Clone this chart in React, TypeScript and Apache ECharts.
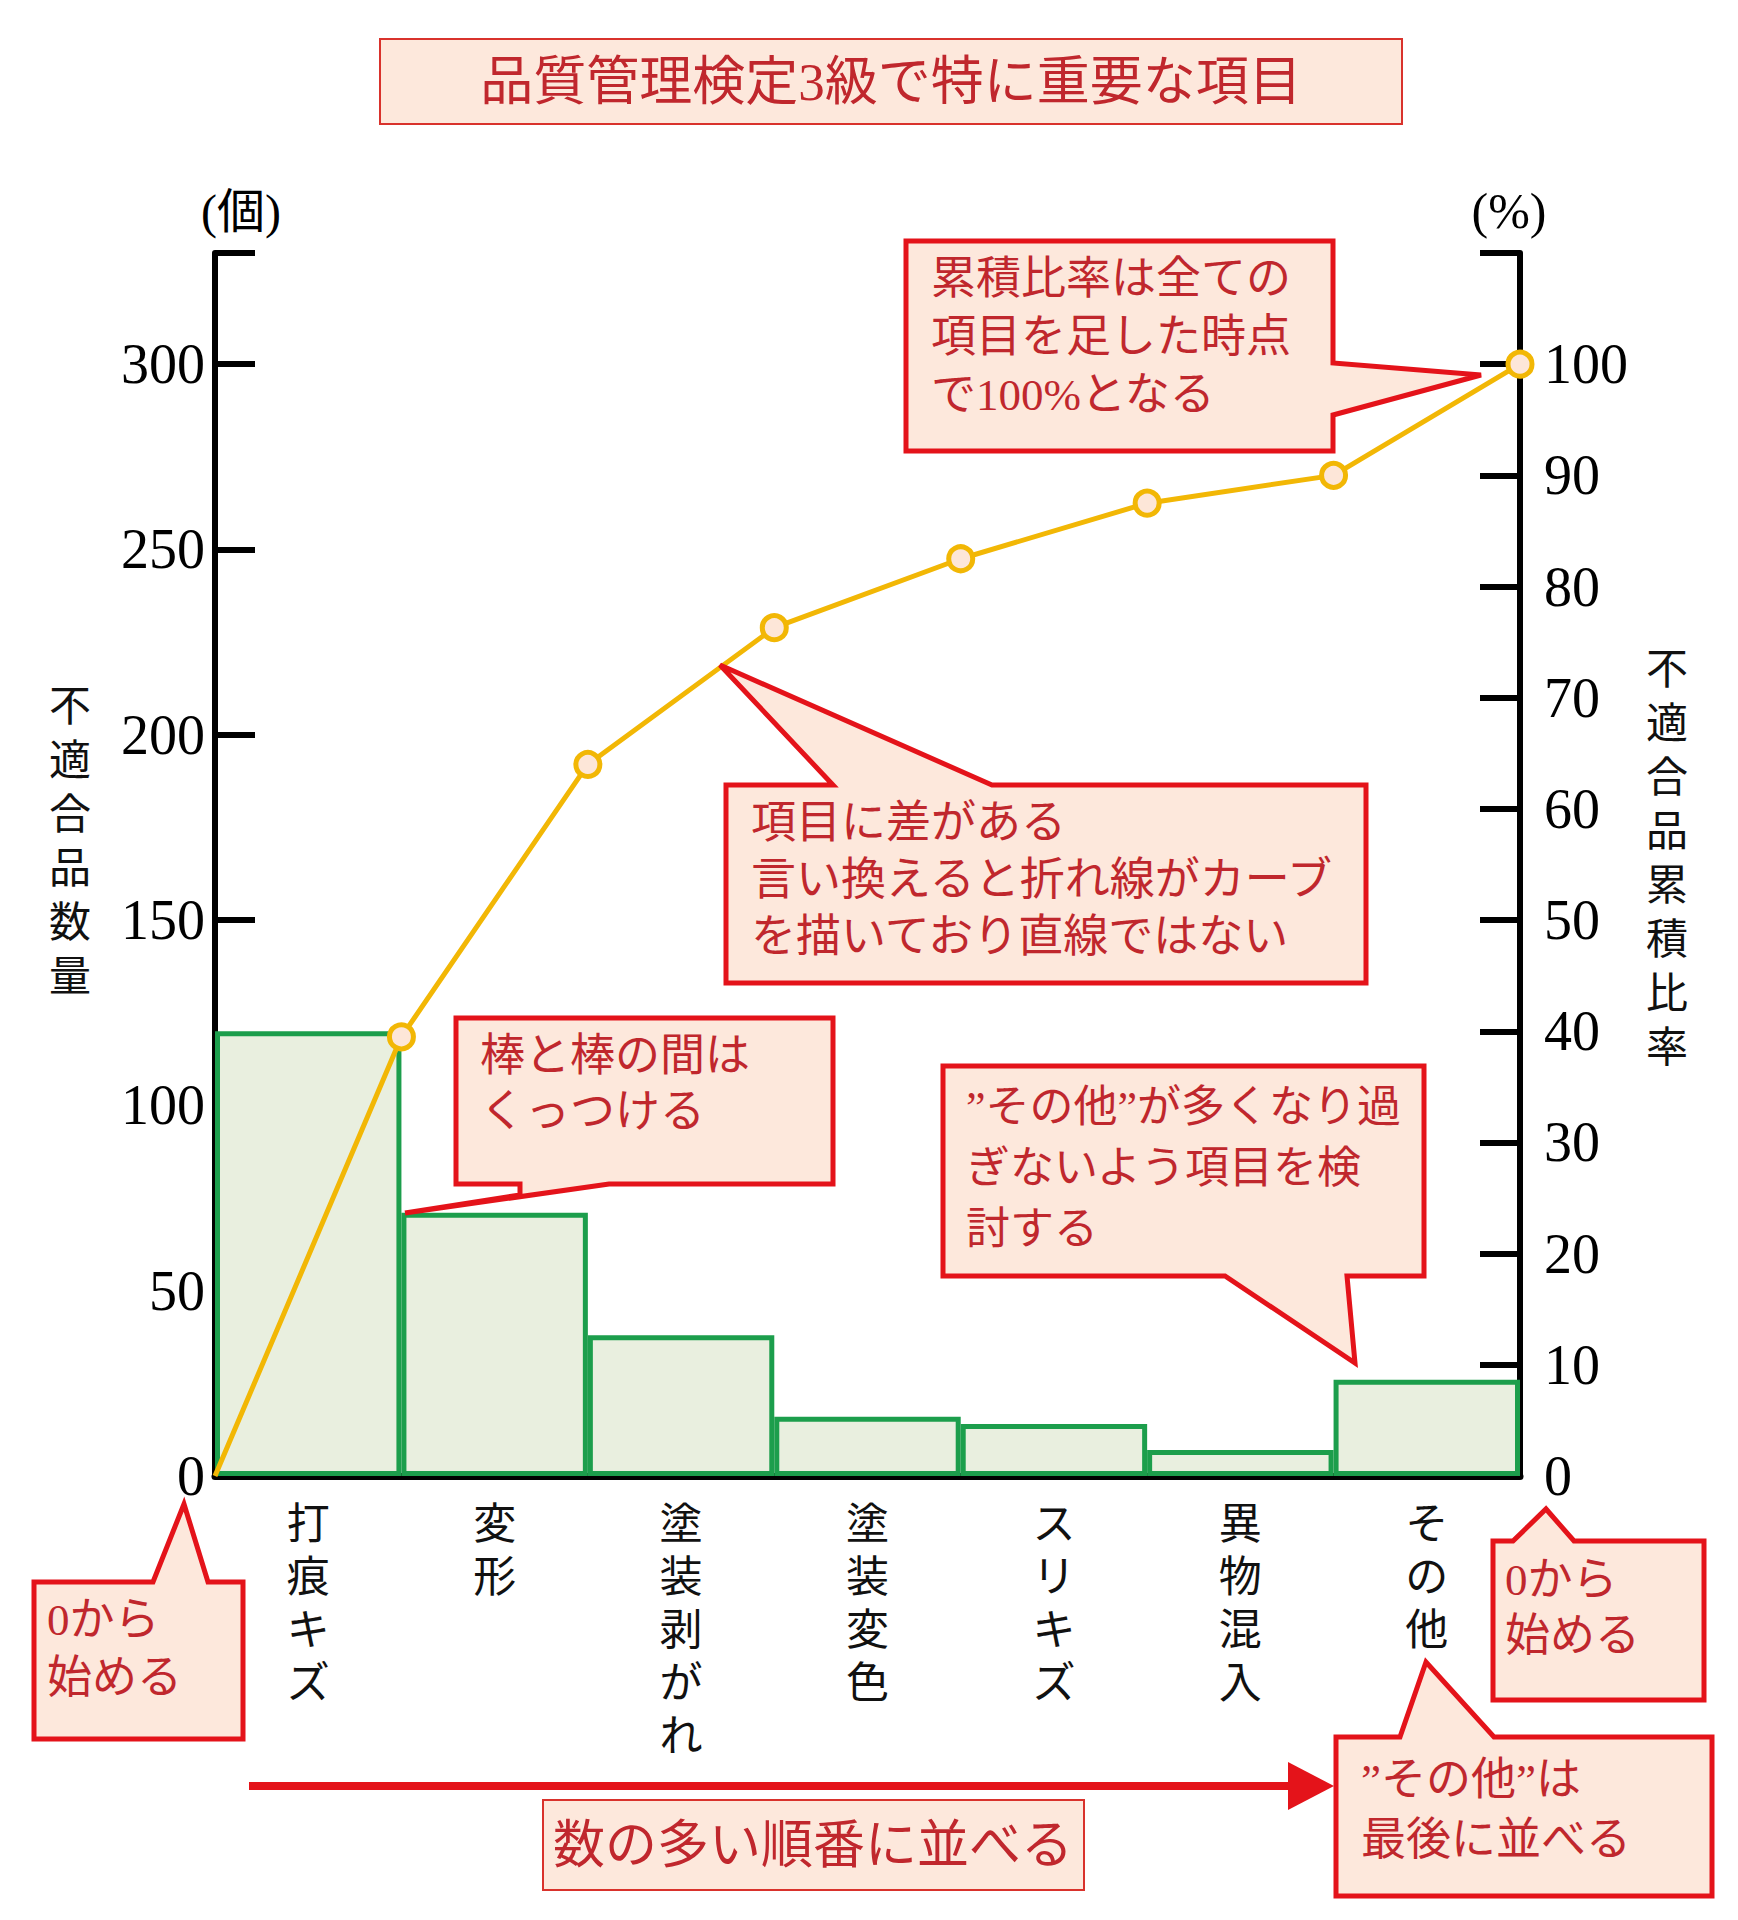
import { useEffect, useRef } from 'react';
import * as echarts from 'echarts';

// ---- data ----
const categories = ['打痕キズ', '変形', '塗装剥がれ', '塗装変色', 'スリキズ', '異物混入', 'その他'];
const defectCounts = [120, 71, 38, 16, 14, 7, 26];
const cumulativePct = [0, 39.5, 64, 76.3, 82.5, 87.5, 90, 100];
const countAxisMax = 330;
const countAxisStep = 50;
const pctAxisMax = 110;
const pctAxisStep = 10;

const titleText = '品質管理検定3級で特に重要な項目';
const leftAxisTitle = '不適合品数量';
const rightAxisTitle = '不適合品累積比率';
const leftUnit = '(個)';
const rightUnit = '(%)';

const MIX = "'Liberation Serif', 'Noto Sans CJK JP', serif";
const RED_TXT = '#c0272d';
const RED_LINE = '#e4131a';
const PEACH = '#fde8dc';

function vertical(s: string) {
  return s.split('').join('\n');
}

function callout(points: number[][], lw = 5) {
  return {
    type: 'polygon',
    shape: { points },
    style: { fill: PEACH, stroke: RED_LINE, lineWidth: lw, lineJoin: 'miter' },
    z: 50,
  };
}

function ctext(x: number, y: number, text: string, lineHeight: number, fontSize = 45) {
  return {
    type: 'text',
    x,
    y,
    z: 60,
    style: {
      text,
      fill: RED_TXT,
      fontSize,
      fontFamily: MIX,
      lineHeight,
      textAlign: 'left',
      textVerticalAlign: 'top',
    },
  };
}

export default function App() {
  const ref = useRef<HTMLDivElement>(null);

  useEffect(() => {
    document.body.style.margin = '0';
    if (!ref.current) return;
    const chart = echarts.init(ref.current, undefined, { renderer: 'svg' });

    const option: any = {
      animation: false,
      backgroundColor: '#ffffff',
      grid: { left: 215, right: 218, top: 253, bottom: 444, containLabel: false, outerBoundsMode: 'none' },
      xAxis: [
        {
          type: 'category',
          data: categories,
          boundaryGap: true,
          axisLine: { show: true, lineStyle: { color: '#000', width: 7 } },
          axisTick: { show: false },
          splitLine: { show: false },
          axisLabel: {
            formatter: (v: string) => vertical(v),
            color: '#111',
            fontFamily: MIX,
            fontSize: 43,
            lineHeight: 53,
            margin: 22,
            verticalAlign: 'top',
            interval: 0,
          },
        },
        {
          type: 'value',
          min: 0,
          max: categories.length,
          show: false,
        },
      ],
      yAxis: [
        {
          type: 'value',
          min: 0,
          max: countAxisMax,
          interval: countAxisStep,
          position: 'left',
          axisLine: { show: true, lineStyle: { color: '#000', width: 6 } },
          axisTick: { show: true, inside: true, length: 40, lineStyle: { color: '#000', width: 6 } },
          splitLine: { show: false },
          axisLabel: {
            formatter: (v: number) => (v === countAxisMax ? '' : String(v)),
            color: '#000',
            fontFamily: MIX,
            fontSize: 56,
            margin: 10,
          },
        },
        {
          type: 'value',
          min: 0,
          max: pctAxisMax,
          interval: pctAxisStep,
          position: 'right',
          axisLine: { show: true, lineStyle: { color: '#000', width: 6 } },
          axisTick: { show: true, inside: true, length: 40, lineStyle: { color: '#000', width: 6 } },
          splitLine: { show: false },
          axisLabel: {
            formatter: (v: number) => (v === pctAxisMax ? '' : String(v)),
            color: '#000',
            fontFamily: MIX,
            fontSize: 56,
            margin: 24,
          },
        },
      ],
      series: [
        {
          type: 'bar',
          xAxisIndex: 0,
          yAxisIndex: 0,
          data: defectCounts,
          barCategoryGap: '0%',
          barGap: '0%',
          itemStyle: { color: '#e9efdf', borderColor: '#1c9e4c', borderWidth: 5 },
          z: 2,
        },
        {
          type: 'line',
          xAxisIndex: 1,
          yAxisIndex: 1,
          data: cumulativePct.map((v, i) => ({ value: [i, v], symbol: i === 0 ? 'none' : 'circle' })),
          symbolSize: 24,
          showSymbol: true,
          lineStyle: { color: '#f2b705', width: 5 },
          itemStyle: { color: '#fde6d8', borderColor: '#f2b705', borderWidth: 5 },
          z: 5,
        },
      ],
      graphic: [
        // title
        {
          type: 'rect',
          shape: { x: 380, y: 39, width: 1022, height: 85 },
          style: { fill: PEACH, stroke: '#d9322c', lineWidth: 2 },
          z: 50,
        },
        {
          type: 'text',
          x: 891,
          y: 82,
          z: 60,
          style: {
            text: titleText,
            fill: RED_TXT,
            fontSize: 53,
            fontFamily: MIX,
            textAlign: 'center',
            textVerticalAlign: 'middle',
          },
        },
        // units
        {
          type: 'text',
          x: 241,
          y: 211,
          style: { text: leftUnit, fill: '#000', fontSize: 48, fontFamily: MIX, textAlign: 'center', textVerticalAlign: 'middle' },
        },
        {
          type: 'text',
          x: 1509,
          y: 211,
          style: { text: rightUnit, fill: '#000', fontSize: 50, fontFamily: MIX, textAlign: 'center', textVerticalAlign: 'middle' },
        },
        // axis titles (vertical)
        {
          type: 'text',
          x: 70,
          y: 680,
          style: {
            text: vertical(leftAxisTitle),
            fill: '#111',
            fontSize: 42,
            lineHeight: 54,
            fontFamily: MIX,
            textAlign: 'center',
            textVerticalAlign: 'top',
          },
        },
        {
          type: 'text',
          x: 1667,
          y: 643,
          style: {
            text: vertical(rightAxisTitle),
            fill: '#111',
            fontSize: 42,
            lineHeight: 54,
            fontFamily: MIX,
            textAlign: 'center',
            textVerticalAlign: 'top',
          },
        },
        // callout 1: cumulative 100%
        callout([[906, 241], [1333, 241], [1333, 363], [1481, 375], [1333, 415], [1333, 451], [906, 451]]),
        ctext(931, 250, '累積比率は全ての\n項目を足した時点\nで100%となる', 58),
        // callout 2: curve
        callout([[726, 785], [833, 785], [720, 665], [992, 785], [1366, 785], [1366, 983], [726, 983]]),
        ctext(751, 794, '項目に差がある\n言い換えると折れ線がカーブ\nを描いており直線ではない', 57),
        // callout 3: bars touching
        callout([[456, 1018], [833, 1018], [833, 1184], [609, 1184], [405, 1213], [520, 1195], [520, 1184], [456, 1184]]),
        ctext(480, 1028, '棒と棒の間は\nくっつける', 56),
        // callout 4: その他 too many
        callout([[943, 1066], [1424, 1066], [1424, 1276], [1347, 1276], [1355, 1363], [1225, 1276], [943, 1276]]),
        ctext(966, 1077, '”その他”が多くなり過\nぎないよう項目を検\n討する', 61, 44),
        // callout 5: start from 0 (left)
        callout([[34, 1582], [153, 1582], [184, 1504], [208, 1582], [243, 1582], [243, 1739], [34, 1739]]),
        ctext(47, 1591, '0から\n始める', 58),
        // callout 6: start from 0 (right)
        callout([[1493, 1541], [1513, 1541], [1546, 1509], [1574, 1541], [1704, 1541], [1704, 1700], [1493, 1700]]),
        ctext(1505, 1552, '0から\n始める', 56),
        // callout 7: その他 last
        callout([[1336, 1737], [1400, 1737], [1426, 1662], [1494, 1737], [1712, 1737], [1712, 1896], [1336, 1896]]),
        ctext(1361, 1750, '”その他”は\n最後に並べる', 60),
        // arrow
        {
          type: 'line',
          shape: { x1: 249, y1: 1786, x2: 1292, y2: 1786 },
          style: { stroke: RED_LINE, lineWidth: 8 },
          z: 50,
        },
        {
          type: 'polygon',
          shape: { points: [[1288, 1762], [1334, 1786], [1288, 1810]] },
          style: { fill: RED_LINE },
          z: 50,
        },
        // order box
        {
          type: 'rect',
          shape: { x: 543, y: 1800, width: 541, height: 90 },
          style: { fill: PEACH, stroke: '#d9322c', lineWidth: 2 },
          z: 50,
        },
        {
          type: 'text',
          x: 813,
          y: 1845,
          z: 60,
          style: {
            text: '数の多い順番に並べる',
            fill: RED_TXT,
            fontSize: 52,
            fontFamily: MIX,
            textAlign: 'center',
            textVerticalAlign: 'middle',
          },
        },
      ],
    };

    chart.setOption(option);
    return () => chart.dispose();
  }, []);

  return <div ref={ref} style={{ width: 1738, height: 1920 }} />;
}
